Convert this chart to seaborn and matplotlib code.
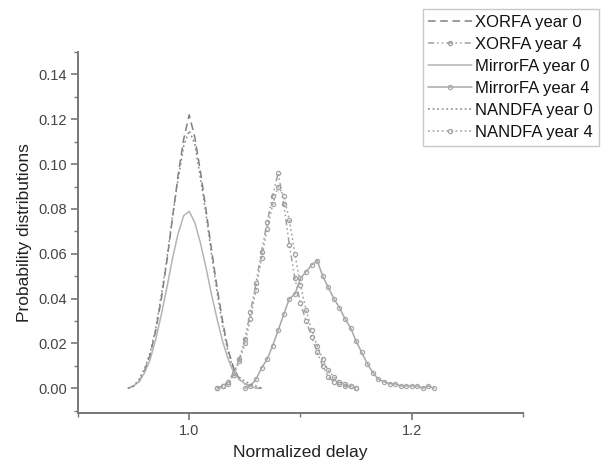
import numpy as np
import pandas as pd
import matplotlib
matplotlib.use('Agg')
import matplotlib.pyplot as plt
import seaborn as sns
from matplotlib.ticker import MultipleLocator

# data (bin width 0.005)
x_year0 = [0.945, 0.950, 0.955, 0.960, 0.965, 0.970, 0.975, 0.980, 0.985, 0.990, 0.995, 1.000, 1.005,
           1.010, 1.015, 1.020, 1.025, 1.030, 1.035, 1.040, 1.045, 1.050, 1.055, 1.060, 1.065]
xorfa_y0 = [0.000, 0.001, 0.003, 0.008, 0.015, 0.026, 0.040, 0.057, 0.076, 0.095, 0.111, 0.122, 0.112,
            0.097, 0.080, 0.062, 0.045, 0.030, 0.017, 0.009, 0.004, 0.002, 0.001, 0.000, 0.000]
mirrorfa_y0 = [0.000, 0.001, 0.003, 0.007, 0.013, 0.022, 0.033, 0.045, 0.058, 0.069, 0.077, 0.079, 0.074,
               0.065, 0.054, 0.042, 0.031, 0.021, 0.013, 0.007, 0.004, 0.002, 0.001, 0.000, 0.000]
nandfa_y0 = [0.000, 0.001, 0.004, 0.009, 0.016, 0.027, 0.042, 0.058, 0.077, 0.093, 0.108, 0.115, 0.109,
             0.094, 0.078, 0.060, 0.043, 0.028, 0.016, 0.008, 0.005, 0.003, 0.002, 0.001, 0.000]

x_year4 = [1.025, 1.030, 1.035, 1.040, 1.045, 1.050, 1.055, 1.060, 1.065, 1.070, 1.075, 1.080, 1.085,
           1.090, 1.095, 1.100, 1.105, 1.110, 1.115, 1.120, 1.125, 1.130, 1.135, 1.140, 1.145, 1.150]
xorfa_y4 = [0.000, 0.001, 0.003, 0.007, 0.013, 0.022, 0.034, 0.047, 0.061, 0.074, 0.086, 0.096, 0.082,
            0.064, 0.049, 0.038, 0.030, 0.023, 0.016, 0.010, 0.005, 0.003, 0.002, 0.001, 0.001, 0.000]
nandfa_y4 = [0.000, 0.001, 0.002, 0.006, 0.012, 0.020, 0.031, 0.044, 0.058, 0.071, 0.082, 0.090, 0.086,
             0.075, 0.060, 0.046, 0.035, 0.026, 0.019, 0.013, 0.008, 0.005, 0.003, 0.002, 0.001, 0.000]

x_mirror4 = [1.050, 1.055, 1.060, 1.065, 1.070, 1.075, 1.080, 1.085, 1.090, 1.095, 1.100, 1.105, 1.110,
             1.115, 1.120, 1.125, 1.130, 1.135, 1.140, 1.145, 1.150, 1.155, 1.160, 1.165, 1.170, 1.175,
             1.180, 1.185, 1.190, 1.195, 1.200, 1.205, 1.210, 1.215, 1.220]
mirrorfa_y4 = [0.000, 0.001, 0.004, 0.009, 0.013, 0.019, 0.026, 0.033, 0.040, 0.042, 0.049, 0.052, 0.055,
               0.057, 0.050, 0.045, 0.040, 0.036, 0.031, 0.027, 0.021, 0.016, 0.011, 0.007, 0.004, 0.003,
               0.002, 0.002, 0.001, 0.001, 0.001, 0.001, 0.000, 0.001, 0.000]

sns.set_style('white')
plt.rcParams['font.family'] = ['Liberation Sans', 'DejaVu Sans']

fig = plt.figure(figsize=(6.04, 4.65), dpi=100)
ax = fig.add_axes([0.129, 0.112, 0.737, 0.776])

# (x, y, label, color, linestyle, with markers)
series = [
    (x_year0, xorfa_y0, 'XORFA year 0', '#808080', (0, (5, 3)), False),
    (x_year4, xorfa_y4, 'XORFA year 4', '#a0a0a0', (0, (4, 2, 1, 2, 1, 2)), True),
    (x_year0, mirrorfa_y0, 'MirrorFA year 0', '#b4b4b4', '-', False),
    (x_mirror4, mirrorfa_y4, 'MirrorFA year 4', '#a8a8a8', '-', True),
    (x_year0, nandfa_y0, 'NANDFA year 0', '#8c8c8c', (0, (1.2, 1.8)), False),
    (x_year4, nandfa_y4, 'NANDFA year 4', '#a4a4a4', (0, (1.2, 1.8)), True),
]
for xs, ys, name, col, ls, mk in series:
    df = pd.DataFrame({'x': xs, 'y': ys})
    sns.lineplot(data=df, x='x', y='y', ax=ax, label=name, color=col, linestyle=ls,
                 linewidth=1.1, legend=False)
    if mk:
        ln = ax.lines[-1]
        ln.set_marker('o')
        ln.set_markersize(3)
        ln.set_markerfacecolor('none')
        ln.set_markeredgecolor(col)
        ln.set_markeredgewidth(0.9)

ax.set_xlim(0.9, 1.3)
ax.set_ylim(-0.011, 0.15)
ax.xaxis.set_minor_locator(MultipleLocator(0.1))
ax.yaxis.set_minor_locator(MultipleLocator(0.01))
ax.set_xticks([1.0, 1.2])
ax.set_xticklabels(['1.0', '1.2'])
ax.set_yticks([0.0, 0.02, 0.04, 0.06, 0.08, 0.10, 0.12, 0.14])
ax.set_yticklabels(['0.00', '0.02', '0.04', '0.06', '0.08', '0.10', '0.12', '0.14'])

for side in ['top', 'right']:
    ax.spines[side].set_visible(False)
for side in ['left', 'bottom']:
    ax.spines[side].set_color('#777777')
    ax.spines[side].set_linewidth(1.4)
ax.tick_params(which='major', direction='out', length=5, width=1.2, color='#777777',
               labelsize=10.5, labelcolor='#444444', pad=3, left=True, bottom=True)
ax.tick_params(which='minor', direction='out', length=3, width=1.0, color='#777777', left=True, bottom=True)

ax.set_xlabel('Normalized delay', fontsize=12.5, color='#222222', labelpad=5)
ax.set_ylabel('Probability distributions', fontsize=12.5, color='#222222', labelpad=4)

handles, labels = ax.get_legend_handles_labels()
leg = fig.legend(handles, labels, loc='upper right', bbox_to_anchor=(1.005, 0.998), fontsize=12,
                 frameon=True, fancybox=False, edgecolor='#bbbbbb', handlelength=2.6,
                 handletextpad=0.2, labelspacing=0.42, borderpad=0.35)
leg.get_frame().set_linewidth(1.0)
for t in leg.get_texts():
    t.set_color('#111111')

fig.savefig('out.png', dpi=100)
